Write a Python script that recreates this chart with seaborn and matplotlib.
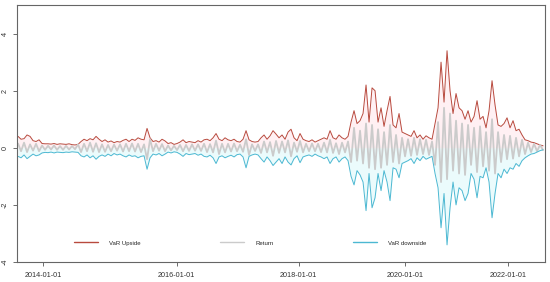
import numpy as np
import pandas as pd
import matplotlib
matplotlib.use("Agg")
import matplotlib.pyplot as plt
import seaborn as sns

sns.set_style("white")
plt.rcParams['font.family'] = ['Liberation Sans', 'DejaVu Sans']
plt.rcParams['axes.unicode_minus'] = False

var_up = [
    0.40, 0.30, 0.32, 0.45, 0.40, 0.25, 0.22, 0.28, 0.15, 0.14,
    0.14, 0.13, 0.15, 0.12, 0.14, 0.13, 0.12, 0.14, 0.11, 0.10,
    0.12, 0.22, 0.30, 0.25, 0.32, 0.28, 0.40, 0.30, 0.22, 0.28,
    0.20, 0.24, 0.18, 0.22, 0.20, 0.26, 0.30, 0.22, 0.30, 0.26,
    0.35, 0.30, 0.28, 0.68, 0.35, 0.22, 0.25, 0.20, 0.30, 0.24,
    0.15, 0.18, 0.12, 0.15, 0.20, 0.28, 0.18, 0.22, 0.20, 0.18,
    0.25, 0.20, 0.28, 0.30, 0.25, 0.35, 0.50, 0.30, 0.25, 0.35,
    0.28, 0.25, 0.30, 0.22, 0.20, 0.30, 0.60, 0.28, 0.22, 0.20,
    0.22, 0.35, 0.45, 0.30, 0.42, 0.60, 0.48, 0.35, 0.45, 0.30,
    0.55, 0.65, 0.35, 0.25, 0.50, 0.30, 0.25, 0.22, 0.28, 0.20,
    0.25, 0.30, 0.35, 0.30, 0.60, 0.35, 0.30, 0.45, 0.35, 0.30,
    0.40, 0.90, 1.30, 0.85, 0.95, 1.20, 2.20, 0.90, 2.10, 2.00,
    0.90, 1.40, 0.75, 1.30, 1.80, 0.80, 0.70, 1.20, 0.55, 0.50,
    0.45, 0.40, 0.60, 0.35, 0.45, 0.30, 0.42, 0.35, 0.30, 0.85,
    1.40, 3.00, 1.60, 3.40, 2.00, 1.20, 1.90, 1.40, 1.30, 1.00,
    1.30, 0.90, 1.10, 1.65, 1.00, 1.10, 0.70, 1.30, 2.35, 1.50,
    0.80, 0.75, 0.85, 1.05, 0.70, 0.95, 0.60, 0.65, 0.45, 0.28,
    0.25, 0.20, 0.18, 0.14, 0.10, 0.07,
]

var_down = [
    -0.30, -0.35, -0.25, -0.38, -0.30, -0.22, -0.28, -0.25, -0.18, -0.16,
    -0.17, -0.15, -0.18, -0.15, -0.16, -0.17, -0.15, -0.16, -0.14, -0.15,
    -0.16, -0.28, -0.32, -0.25, -0.35, -0.28, -0.40, -0.30, -0.25, -0.30,
    -0.22, -0.28, -0.20, -0.25, -0.22, -0.28, -0.32, -0.25, -0.30, -0.28,
    -0.35, -0.30, -0.28, -0.75, -0.35, -0.22, -0.25, -0.20, -0.28, -0.22,
    -0.15, -0.18, -0.14, -0.16, -0.22, -0.30, -0.20, -0.24, -0.22, -0.20,
    -0.26, -0.22, -0.30, -0.32, -0.26, -0.35, -0.55, -0.32, -0.28, -0.35,
    -0.30, -0.26, -0.32, -0.24, -0.22, -0.32, -0.70, -0.30, -0.25, -0.22,
    -0.25, -0.38, -0.50, -0.32, -0.45, -0.62, -0.50, -0.38, -0.55, -0.32,
    -0.50, -0.60, -0.38, -0.28, -0.52, -0.32, -0.28, -0.25, -0.30, -0.22,
    -0.28, -0.32, -0.38, -0.32, -0.55, -0.38, -0.32, -0.50, -0.38, -0.32,
    -0.45, -1.00, -1.30, -0.80, -0.95, -1.20, -2.20, -0.90, -2.10, -1.75,
    -0.90, -1.50, -0.80, -1.20, -1.85, -0.70, -0.75, -1.05, -0.55, -0.50,
    -0.45, -0.38, -0.55, -0.35, -0.45, -0.30, -0.40, -0.35, -0.30, -0.90,
    -1.40, -2.80, -1.60, -3.40, -2.10, -1.20, -2.00, -1.40, -1.50, -1.85,
    -1.60, -0.90, -1.10, -1.75, -1.00, -1.05, -0.70, -1.20, -2.45, -1.60,
    -0.90, -1.05, -0.75, -0.90, -0.70, -0.75, -0.55, -0.65, -0.45, -0.35,
    -0.28, -0.22, -0.20, -0.15, -0.10, -0.07,
]

returns = [
    0.15, -0.12, 0.18, -0.15, 0.12, -0.10, 0.14, -0.12, 0.08, -0.07,
    0.07, -0.06, 0.08, -0.07, 0.06, -0.07, 0.07, -0.06, 0.06, -0.05,
    0.12, -0.15, 0.14, -0.12, 0.18, -0.14, 0.16, -0.15, 0.12, -0.14,
    0.10, -0.12, 0.11, -0.10, 0.12, -0.13, 0.14, -0.12, 0.15, -0.13,
    0.14, -0.15, 0.12, -0.40, 0.30, -0.12, 0.14, -0.10, 0.13, -0.12,
    0.08, -0.09, 0.07, -0.08, 0.10, -0.12, 0.10, -0.11, 0.12, -0.10,
    0.12, -0.11, 0.14, -0.15, 0.13, -0.16, 0.25, -0.22, 0.14, -0.16,
    0.14, -0.13, 0.15, -0.12, 0.11, -0.14, 0.30, -0.25, 0.12, -0.11,
    0.12, -0.18, 0.22, -0.16, 0.20, -0.28, 0.24, -0.18, 0.22, -0.16,
    0.26, -0.30, 0.18, -0.14, 0.24, -0.16, 0.14, -0.12, 0.15, -0.12,
    0.14, -0.15, 0.18, -0.16, 0.28, -0.18, 0.16, -0.22, 0.18, -0.16,
    0.22, -0.50, 0.70, -0.45, 0.60, -0.55, 0.85, -0.70, 0.80, -0.75,
    0.65, -0.70, 0.55, -0.60, 0.80, -0.50, 0.45, -0.55, 0.35, -0.30,
    0.30, -0.28, 0.35, -0.25, 0.30, -0.22, 0.28, -0.25, 0.22, -0.60,
    0.90, -1.20, 1.40, -1.10, 1.20, -0.80, 0.95, -0.90, 0.85, -0.95,
    0.80, -0.60, 0.70, -0.85, 0.75, -0.65, 0.55, -0.80, 1.00, -0.90,
    0.55, -0.50, 0.45, -0.40, 0.42, -0.38, 0.35, -0.30, 0.28, -0.22,
    0.18, -0.15, 0.14, -0.12, 0.10, -0.08,
]

# dates shown on the x axis and the observation they fall on
tick_dates = ["2014-01-01", "2016-01-01", "2018-01-01", "2020-01-01", "2022-01-01"]
tick_obs = [8.3, 52.9, 93.5, 129.1, 163.3]

df = pd.DataFrame({"obs": np.arange(len(var_up)), "up": var_up,
                   "down": var_down, "ret": returns})

fig = plt.figure(figsize=(5.5, 2.82), dpi=100)
ax = fig.add_axes([0.031, 0.071, 0.96, 0.911])

ax.fill_between(df["obs"], 0, df["up"], color="#fff0f3", lw=0)
ax.fill_between(df["obs"], 0, df["down"], color="#ebfbfc", lw=0)

sns.lineplot(data=df, x="obs", y="up", ax=ax, color="#b84a3e", lw=0.7, label="VaR Upside")
sns.lineplot(data=df, x="obs", y="ret", ax=ax, color="#cbcbcb", lw=1.3, label="Return")
sns.lineplot(data=df, x="obs", y="down", ax=ax, color="#4cb8d2", lw=0.7, label="VaR downside")

ax.set_xlim(-0.33, 175.67)
ax.set_ylim(-4, 5)
ax.set_xlabel("")
ax.set_ylabel("")

ax.set_xticks(tick_obs)
ax.set_xticklabels(tick_dates)
ax.set_yticks([-4, -2, 0, 2, 4])
ax.set_yticklabels(["-4", "-2", "0", "2", "4"], rotation=90, va="center")
ax.tick_params(axis="x", length=3, width=0.6, color="#555555", pad=4,
               labelsize=5.2, labelcolor="#333333", bottom=True)
ax.tick_params(axis="y", length=3, width=0.6, color="#555555", pad=3,
               labelsize=5.2, labelcolor="#333333", left=True)

for side in ["left", "bottom", "top", "right"]:
    ax.spines[side].set_visible(True)
    ax.spines[side].set_linewidth(0.8)
    ax.spines[side].set_color("#666666")

leg = ax.legend(loc="center left", bbox_to_anchor=(0.108, 0.074), ncol=3,
                frameon=False, fontsize=4.3, handlelength=4, handletextpad=1.8,
                columnspacing=13.4, borderpad=0, borderaxespad=0)
for line in leg.get_lines():
    line.set_linewidth(1.0)

fig.savefig("out.png", dpi=100)
